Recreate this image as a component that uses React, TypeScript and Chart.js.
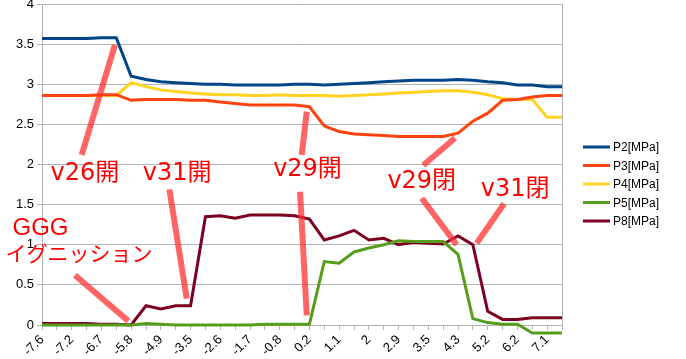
import React, { useEffect, useRef } from "react";
import { Chart, registerables } from "chart.js";

Chart.register(...registerables);

// ---- data ----
const categories = [
  "-7.6", "-7.4", "-7.2", "-7.0", "-6.7", "-6.2", "-5.8", "-5.3", "-4.9", "-4.2",
  "-3.5", "-3.0", "-2.6", "-2.2", "-1.7", "-1.2", "-0.8", "-0.3", "0.2", "0.6",
  "1.1", "1.5", "2", "2.5", "2.9", "3.2", "3.5", "3.9", "4.3", "4.7",
  "5.2", "5.7", "6.2", "6.6", "7.1", "7.5",
];
const labelEvery = 2;

const seriesNames = ["P2[MPa]", "P3[MPa]", "P4[MPa]", "P5[MPa]", "P8[MPa]"];
const seriesColors = ["#004586", "#ff420e", "#ffd320", "#579d1c", "#7e0021"];

const p2 = [3.57, 3.57, 3.57, 3.57, 3.58, 3.58, 3.10, 3.06, 3.03, 3.02, 3.01, 3.00, 3.00, 2.99, 2.99, 2.99, 2.99, 3.00, 3.00, 2.99, 3.00, 3.01, 3.02, 3.03, 3.04, 3.05, 3.05, 3.05, 3.06, 3.05, 3.03, 3.02, 2.99, 2.99, 2.97, 2.97];
const p3 = [2.86, 2.86, 2.86, 2.86, 2.87, 2.87, 2.80, 2.81, 2.81, 2.81, 2.80, 2.80, 2.78, 2.76, 2.74, 2.74, 2.74, 2.74, 2.72, 2.48, 2.41, 2.38, 2.37, 2.36, 2.35, 2.35, 2.35, 2.35, 2.39, 2.54, 2.64, 2.80, 2.81, 2.84, 2.86, 2.86];
const p4 = [2.86, 2.86, 2.86, 2.86, 2.86, 2.86, 3.02, 2.97, 2.93, 2.91, 2.89, 2.88, 2.87, 2.87, 2.86, 2.86, 2.87, 2.86, 2.86, 2.86, 2.85, 2.86, 2.87, 2.88, 2.89, 2.90, 2.91, 2.92, 2.92, 2.90, 2.87, 2.82, 2.81, 2.81, 2.59, 2.59];
const p5 = [0, 0, 0, 0, 0, 0, 0, 0.02, 0.01, 0, 0, 0, 0, 0, 0, 0.01, 0.01, 0.01, 0.01, 0.79, 0.77, 0.91, 0.96, 1.00, 1.05, 1.04, 1.04, 1.04, 0.88, 0.08, 0.03, 0.01, 0.01, -0.1, -0.1, -0.1];
const p8 = [0.02, 0.02, 0.02, 0.02, 0.01, 0.01, 0.0, 0.24, 0.20, 0.24, 0.24, 1.35, 1.36, 1.33, 1.37, 1.37, 1.37, 1.36, 1.32, 1.06, 1.11, 1.18, 1.06, 1.08, 1.00, 1.03, 1.02, 1.01, 1.11, 1.00, 0.17, 0.07, 0.07, 0.09, 0.09, 0.09];
const seriesValues = [p2, p3, p4, p5, p8];

const yMin = 0;
const yMax = 4;
const yStep = 0.5;

// annotations in data coordinates (category index, value)
const annotationTexts = [
  { text: "v26開", at: [2.89, 1.89], font: "24px 'DejaVu Sans', 'Noto Sans CJK JP', sans-serif" },
  { text: "v31開", at: [9.09, 1.89], font: "24px 'DejaVu Sans', 'Noto Sans CJK JP', sans-serif" },
  { text: "v29開", at: [17.87, 1.93], font: "24px 'DejaVu Sans', 'Noto Sans CJK JP', sans-serif" },
  { text: "v29閉", at: [25.56, 1.79], font: "24px 'DejaVu Sans', 'Noto Sans CJK JP', sans-serif" },
  { text: "v31閉", at: [31.84, 1.69], font: "24px 'DejaVu Sans', 'Noto Sans CJK JP', sans-serif" },
  { text: "GGG", at: [-0.1, 1.20], font: "24px 'Liberation Sans', 'Noto Sans CJK JP', sans-serif" },
  { text: "イグニッション", at: [2.49, 0.90], font: "21px 'Noto Sans CJK JP', sans-serif" },
];
const pointerLines = [
  [4.91, 3.49, 2.67, 2.12],
  [8.57, 1.69, 9.74, 0.33],
  [17.82, 2.66, 17.48, 2.12],
  [17.37, 1.66, 17.82, 0.12],
  [27.80, 2.33, 25.66, 1.99],
  [25.56, 1.58, 27.91, 1.00],
  [31.10, 1.51, 29.26, 1.02],
  [2.22, 0.62, 5.81, 0.05],
];

const FONT = "'Liberation Sans', Arial, sans-serif";
const GRID = "#b3b3b3";

const overlayPlugin = {
  id: "overlay",
  afterDatasetsDraw(chart: any) {
    const { ctx, chartArea, scales } = chart;
    const xs = scales.x;
    const ys = scales.y;
    ctx.save();
    // right border of plot area
    ctx.strokeStyle = GRID;
    ctx.lineWidth = 1;
    ctx.beginPath();
    ctx.moveTo(Math.round(chartArea.right) + 0.5, chartArea.top);
    ctx.lineTo(Math.round(chartArea.right) + 0.5, chartArea.bottom);
    ctx.stroke();

    // pointer lines
    ctx.strokeStyle = "rgba(255,50,50,0.75)";
    ctx.lineWidth = 6;
    ctx.lineCap = "butt";
    for (const l of pointerLines) {
      ctx.beginPath();
      ctx.moveTo(xs.getPixelForValue(l[0]), ys.getPixelForValue(l[1]));
      ctx.lineTo(xs.getPixelForValue(l[2]), ys.getPixelForValue(l[3]));
      ctx.stroke();
    }
    // annotation texts
    ctx.fillStyle = "#ff0000";
    ctx.textAlign = "center";
    ctx.textBaseline = "middle";
    for (const t of annotationTexts) {
      ctx.font = t.font;
      ctx.fillText(t.text, xs.getPixelForValue(t.at[0]), ys.getPixelForValue(t.at[1]));
    }

    // legend
    const x0 = chartArea.right + 21;
    const rowH = 18.5;
    const top = chartArea.top + 143;
    ctx.font = `12px ${FONT}`;
    ctx.textAlign = "left";
    ctx.textBaseline = "middle";
    chart.data.datasets.forEach((ds: any, i: number) => {
      const yy = top + i * rowH;
      ctx.strokeStyle = ds.borderColor;
      ctx.lineWidth = 3;
      ctx.beginPath();
      ctx.moveTo(x0, yy);
      ctx.lineTo(x0 + 27, yy);
      ctx.stroke();
      ctx.fillStyle = "#000";
      ctx.fillText(ds.label, x0 + 30, yy + 1);
    });
    ctx.restore();
  },
};

export default function App() {
  const ref = useRef<HTMLCanvasElement | null>(null);
  useEffect(() => {
    if (!ref.current) return;
    const chart = new Chart(ref.current, {
      type: "line",
      data: {
        labels: categories,
        datasets: seriesNames.map((name, i) => ({
          label: name,
          data: seriesValues[i],
          borderColor: seriesColors[i],
          backgroundColor: seriesColors[i],
          borderWidth: 3,
          pointRadius: 0,
          tension: 0,
          clip: false as any,
        })),
      },
      options: {
        animation: false,
        responsive: false,
        maintainAspectRatio: false,
        layout: { padding: { left: 0, right: 124, top: 4, bottom: 0 } },
        plugins: { legend: { display: false }, tooltip: { enabled: false } },
        scales: {
          x: {
            type: "category",
            offset: false,
            grid: { display: true, drawOnChartArea: false, drawTicks: true, tickLength: 5, color: GRID },
            border: { display: true, color: GRID },
            ticks: {
              autoSkip: false,
              maxRotation: 45,
              minRotation: 45,
              padding: 2,
              color: "#000",
              font: { family: FONT, size: 13 },
              callback: (_v: any, i: number) => (i % labelEvery === 0 ? categories[i] : ""),
            },
            afterFit: (s: any) => {
              s.height = 34;
              s.paddingLeft = 0;
              s.paddingRight = 0;
            },
          },
          y: {
            min: yMin,
            max: yMax,
            grid: { color: GRID, tickLength: 5 },
            border: { display: true, color: GRID },
            ticks: {
              stepSize: yStep,
              padding: 3,
              color: "#000",
              font: { family: FONT, size: 13 },
              callback: (v: any) => String(Number(v)),
            },
            afterFit: (s: any) => {
              s.width = 42;
              s.paddingTop = 0;
              s.paddingBottom = 0;
            },
          },
        },
      },
      plugins: [overlayPlugin],
    });
    return () => chart.destroy();
  }, []);
  return (
    <div style={{ position: "absolute", left: 0, top: 0, width: 686, height: 359, background: "#fff" }}>
      <canvas ref={ref} width={686} height={359} style={{ display: "block" }} />
    </div>
  );
}
